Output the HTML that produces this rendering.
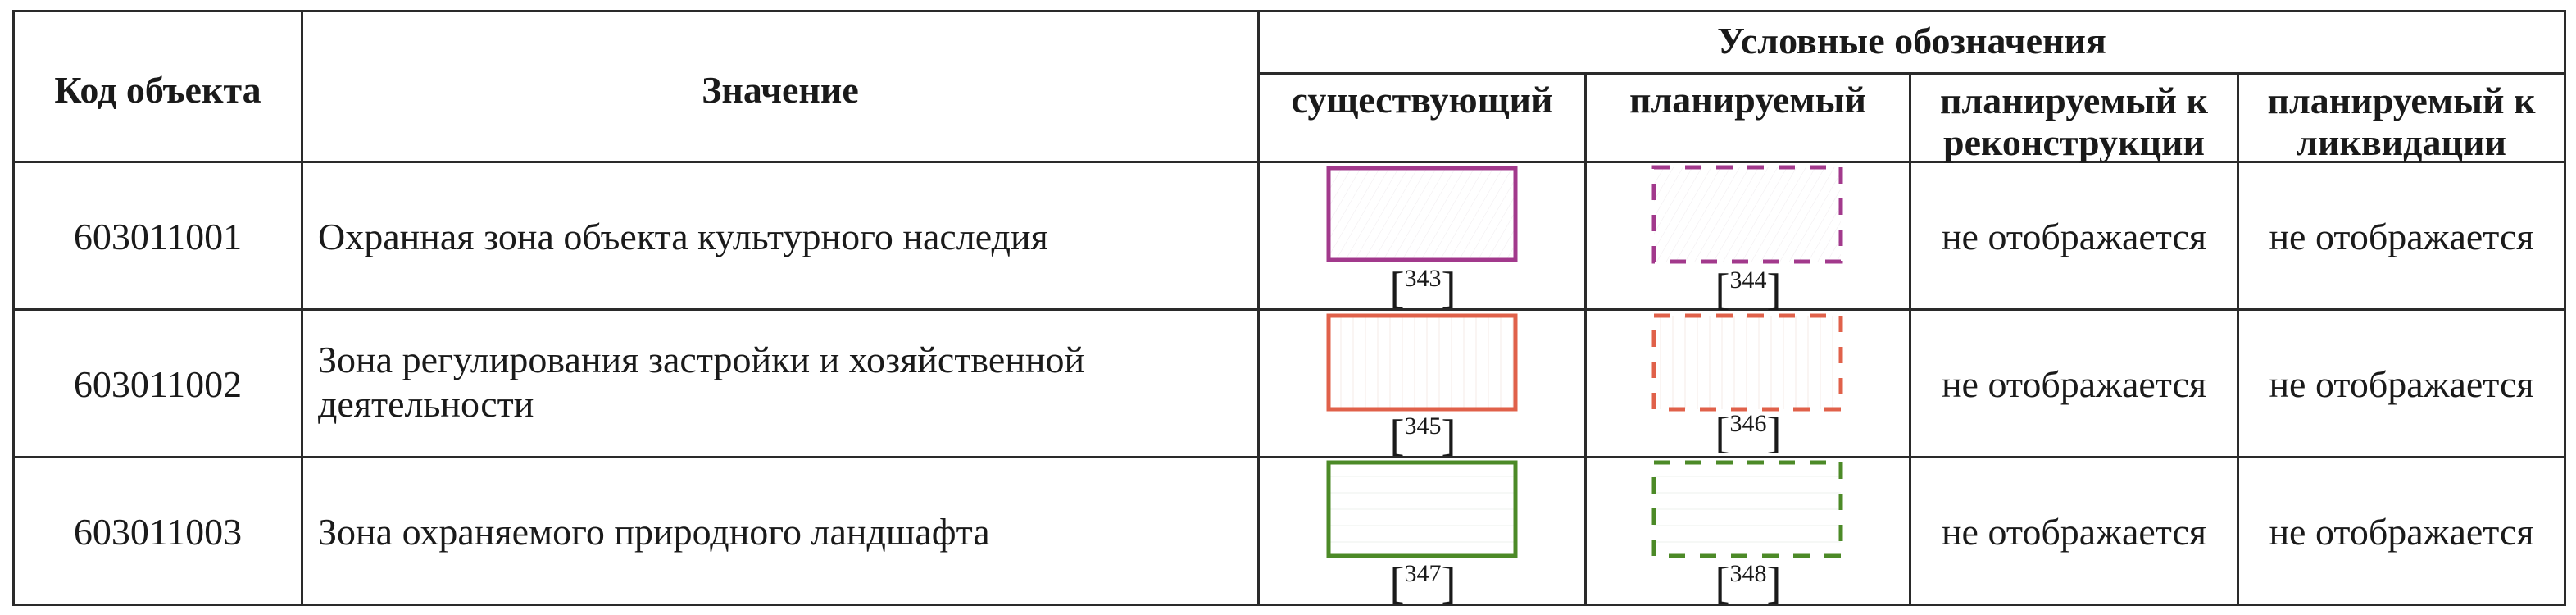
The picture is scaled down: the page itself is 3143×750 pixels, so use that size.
<!DOCTYPE html>
<html><head><meta charset="utf-8">
<style>
html,body{margin:0;padding:0;background:#fff;}
body{width:3143px;height:750px;position:relative;overflow:hidden;font-family:"Liberation Serif",serif;color:#1a1a1a;}
.h{position:absolute;background:#2a2a2a;height:3px;}
.v{position:absolute;background:#2a2a2a;width:3px;}
.t{position:absolute;font-size:46px;line-height:50px;white-space:nowrap;}
.c{text-align:center;}
.b{font-weight:bold;}
.lab{position:absolute;width:120px;text-align:center;font-size:54px;line-height:50px;height:52px;}
.lab sup{font-size:30px;vertical-align:0;position:relative;top:-20px;}
</style></head><body>
<div class="h" style="left:15px;top:12px;width:3116px"></div>
<div class="h" style="left:1535px;top:88px;width:1596px"></div>
<div class="h" style="left:15px;top:196px;width:3116px"></div>
<div class="h" style="left:15px;top:376px;width:3116px"></div>
<div class="h" style="left:15px;top:556px;width:3116px"></div>
<div class="h" style="left:15px;top:736px;width:3116px"></div>
<div class="v" style="left:15px;top:12px;height:727px"></div>
<div class="v" style="left:367px;top:12px;height:727px"></div>
<div class="v" style="left:1534px;top:12px;height:727px"></div>
<div class="v" style="left:1933px;top:88px;height:651px"></div>
<div class="v" style="left:2329px;top:88px;height:651px"></div>
<div class="v" style="left:2729px;top:88px;height:651px"></div>
<div class="v" style="left:3128px;top:12px;height:727px"></div>

<div class="t c b" style="left:18px;width:349px;top:85px">Код объекта</div>
<div class="t c b" style="left:370px;width:1164px;top:85px">Значение</div>
<div class="t c b" style="left:1537px;width:1591px;top:25px">Условные обозначения</div>
<div class="t c b" style="left:1537px;width:396px;top:97px">существующий</div>
<div class="t c b" style="left:1936px;width:393px;top:97px">планируемый</div>
<div class="t c b" style="left:2332px;width:397px;top:97px;line-height:51px">планируемый к<br>реконструкции</div>
<div class="t c b" style="left:2732px;width:396px;top:97px;line-height:51px">планируемый к<br>ликвидации</div>

<div class="t c" style="left:18px;width:349px;top:264px">603011001</div>
<div class="t" style="left:388px;top:264px">Охранная зона объекта культурного наследия</div>
<div class="t c" style="left:2332px;width:397px;top:264px">не отображается</div>
<div class="t c" style="left:2732px;width:396px;top:264px">не отображается</div>

<div class="t c" style="left:18px;width:349px;top:444px">603011002</div>
<div class="t" style="left:388px;top:412px;line-height:54px">Зона регулирования застройки и хозяйственной<br>деятельности</div>
<div class="t c" style="left:2332px;width:397px;top:444px">не отображается</div>
<div class="t c" style="left:2732px;width:396px;top:444px">не отображается</div>

<div class="t c" style="left:18px;width:349px;top:624px">603011003</div>
<div class="t" style="left:388px;top:624px">Зона охраняемого природного ландшафта</div>
<div class="t c" style="left:2332px;width:397px;top:624px">не отображается</div>
<div class="t c" style="left:2732px;width:396px;top:624px">не отображается</div>

<svg style="position:absolute;left:0;top:0" width="3143" height="750">
<defs>
<pattern id="pd" width="10" height="10" patternUnits="userSpaceOnUse" patternTransform="rotate(30)"><line x1="0" y1="0" x2="0" y2="10" stroke="#f0ecef" stroke-width="1"/></pattern>
<pattern id="pv" width="15" height="10" patternUnits="userSpaceOnUse"><line x1="1" y1="0" x2="1" y2="10" stroke="#f5ebe7" stroke-width="1"/></pattern>
<pattern id="ph" width="10" height="20" patternUnits="userSpaceOnUse"><line x1="0" y1="1" x2="10" y2="1" stroke="#eef0ec" stroke-width="1"/></pattern>
</defs>
<g stroke-width="5">
<rect x="1621" y="205" width="228" height="112" fill="url(#pd)" stroke="#a2398c"/>
<rect x="2018" y="204" width="228" height="115" fill="url(#pd)" stroke="#a2398c" stroke-dasharray="20 18"/>
<rect x="1621" y="385" width="228" height="114" fill="url(#pv)" stroke="#e0614a"/>
<rect x="2018" y="385" width="228" height="114" fill="url(#pv)" stroke="#e0614a" stroke-dasharray="20 18"/>
<rect x="1621" y="564" width="228" height="114" fill="url(#ph)" stroke="#4c8a27"/>
<rect x="2018" y="564" width="228" height="114" fill="url(#ph)" stroke="#4c8a27" stroke-dasharray="20 18"/>
</g>
</svg>

<div class="lab" style="left:1676px;top:326px">[<sup>343</sup>]</div>
<div class="lab" style="left:2073px;top:328px">[<sup>344</sup>]</div>
<div class="lab" style="left:1676px;top:506px">[<sup>345</sup>]</div>
<div class="lab" style="left:2073px;top:503px">[<sup>346</sup>]</div>
<div class="lab" style="left:1676px;top:686px">[<sup>347</sup>]</div>
<div class="lab" style="left:2073px;top:686px">[<sup>348</sup>]</div>
</body></html>
